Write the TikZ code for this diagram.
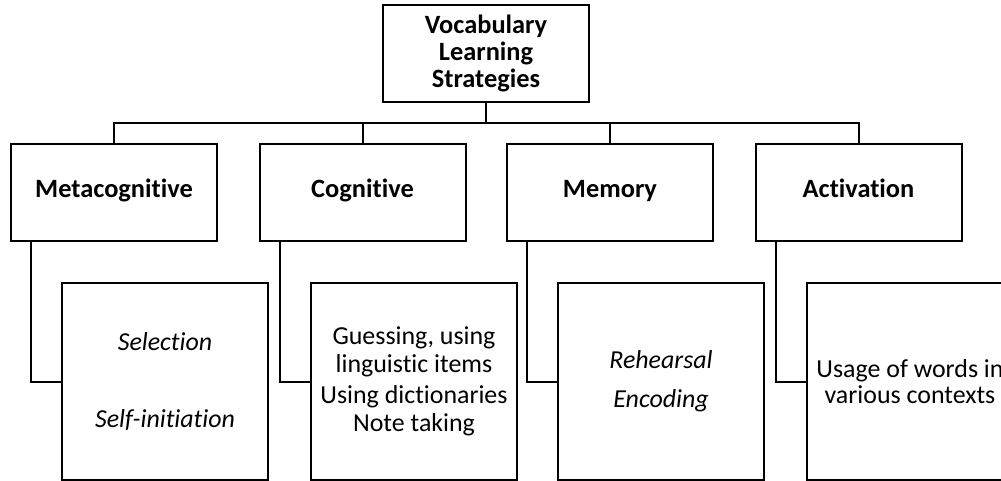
\documentclass[tikz,border=0pt]{standalone}
\usepackage{fontspec}
\setmainfont{Carlito}[Ligatures=NoCommon]
\tikzset{
  headbox/.style={draw, line width=2bp, minimum width=206bp, minimum height=97bp,
    align=center, font=\fontsize{26.5}{27}\selectfont\bfseries},
  groupbox/.style={headbox, text height=17bp, text depth=6bp},
  itembox/.style={draw, line width=2bp, minimum width=206bp, minimum height=197bp,
    align=center, font=\fontsize{26}{28}\selectfont},
  link/.style={line width=2bp}
}
\begin{document}
\begin{tikzpicture}[x=1bp, y=-1bp]
        \useasboundingbox (0,0) rectangle (1001,481);
        \node [headbox] (vls) at (486,53.5) {Vocabulary\\Learning\\Strategies};

        \node [groupbox] (meta) at (114,192.5) {Metacognitive};
        \node [groupbox] (cog) at (362.5,192.5) {Cognitive};
        \node [groupbox] (mem) at (610,192.5) {Memory};
        \node [groupbox] (act) at (858.5,192.5) {Activation};

        \node [itembox] (metaitems) at (165,381.5) {\itshape Selection\\[49bp]\itshape Self-initiation};
        \node [itembox] (cogitems) at (414,381.5) {Guessing, using\\linguistic items\\[3bp]Using dictionaries\\[0bp]Note taking};
        \node [itembox] (memitems) at (661,381.5) {\itshape Rehearsal\\[11bp]\itshape Encoding};
        \node [itembox] (actitems) at (910,381.5) {Usage of words in\\[-2bp]various contexts};

        \coordinate (bus) at (486,123);
        \draw [link] (vls) -- (bus);
        \foreach \n in {meta,cog,mem,act}
            \draw [link] (bus) -| (\n.north);
        \foreach \n in {meta,cog,mem,act}
            \draw [link] ([xshift=21bp]\n.south west) |- (\n items.west);
\end{tikzpicture}
\end{document}
